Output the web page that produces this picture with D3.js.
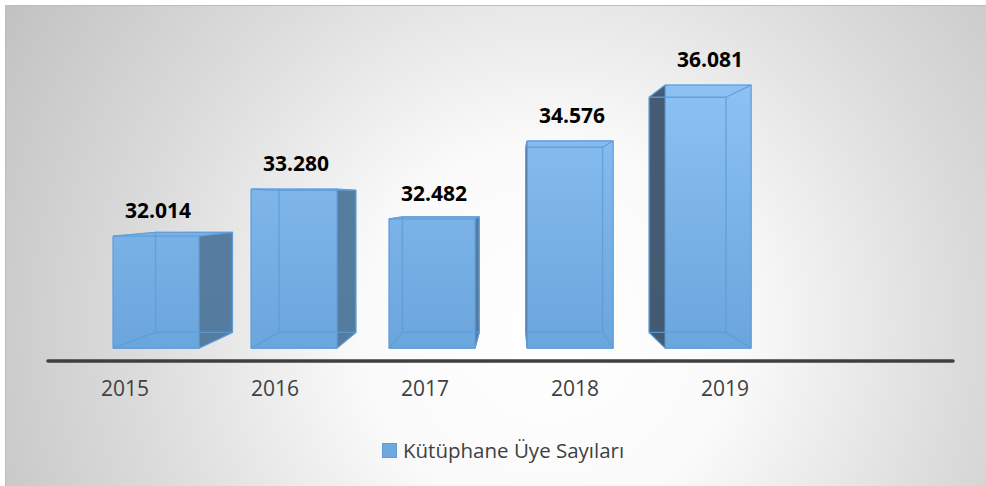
<!DOCTYPE html>
<html>
<head>
<meta charset="utf-8">
<script src="https://cdn.jsdelivr.net/npm/d3@7"></script>
<style>
	body { margin: 0; background: #ffffff; }
	svg { display: block; }
</style>
</head>
<body>
<svg id="container"></svg>
<script>
// data
const years = ['2015', '2016', '2017', '2018', '2019'];
const slots = years.concat(['']); // the axis keeps an empty sixth slot
const members = [32014, 33280, 32482, 34576, 36081];
const seriesName = 'Kütüphane Üye Sayıları';

const W = 986, H = 486;

// vanishing point and depths of the 3d bars
const vp = [514, 200];
const kFront = 0.92, kBack = 0.8225;

function proj(px, py, k) {
	return [vp[0] + k * (px - vp[0]), vp[1] + k * (py - vp[1])];
}

const trFormat = d3.formatLocale({ decimal: ',', thousands: '.', grouping: [3], currency: ['', ''] }).format(',d');

const svg = d3.select('#container')
	.attr('width', W)
	.attr('height', H);

const defs = svg.append('defs');

// radial background
const bg = defs.append('radialGradient')
	.attr('id', 'bg')
	.attr('gradientUnits', 'userSpaceOnUse')
	.attr('cx', 550).attr('cy', 330).attr('r', 630);
bg.append('stop').attr('offset', 0).attr('stop-color', '#ffffff');
bg.append('stop').attr('offset', 0.3).attr('stop-color', '#fafafa');
bg.append('stop').attr('offset', 0.65).attr('stop-color', '#dcdcdc');
bg.append('stop').attr('offset', 1).attr('stop-color', '#c2c2c2');

// bar fill
const barGrad = defs.append('linearGradient')
	.attr('id', 'barFill')
	.attr('gradientUnits', 'userSpaceOnUse')
	.attr('x1', 0).attr('y1', 80).attr('x2', 0).attr('y2', 350);
barGrad.append('stop').attr('offset', 0).attr('stop-color', '#8dc2f3');
barGrad.append('stop').attr('offset', 1).attr('stop-color', '#6aa5dc');

svg.append('rect')
	.attr('x', 5).attr('y', 5)
	.attr('width', W - 5).attr('height', H - 5)
	.attr('fill', 'url(#bg)');

svg.append('path')
	.attr('d', 'M5.5,' + H + 'V5.5H' + W)
	.attr('fill', 'none')
	.attr('stroke', '#bcbcbc')
	.attr('stroke-width', 1);

// scales (front plane of the axis)
const x = d3.scaleBand()
	.domain(slots)
	.range([50, 950])
	.paddingInner(0.377)
	.paddingOuter(0.1885);

const y = d3.scaleLinear()
	.domain([29000, 37000])
	.range([361, 38]);

// bars
const line = d3.line();
const edge = '#5d9cd8';

years.forEach((yr, i) => {
	const x0 = x(yr), x1 = x(yr) + x.bandwidth();
	const yTop = y(members[i]), yBot = y.range()[0];

	const f = [proj(x0, yTop, kFront), proj(x1, yTop, kFront), proj(x1, yBot, kFront), proj(x0, yBot, kFront)];
	const b = [proj(x0, yTop, kBack), proj(x1, yTop, kBack), proj(x1, yBot, kBack), proj(x0, yBot, kBack)];

	const g = svg.append('g').attr('class', 'bar');

	const faces = [
		b,
		[f[3], f[2], b[2], b[3]], // bottom
		[f[0], f[1], b[1], b[0]], // top
		f
	];
	faces.forEach(p => {
		g.append('path')
			.attr('d', line(p) + 'Z')
			.attr('fill', 'url(#barFill)')
			.attr('stroke', 'url(#barFill)')
			.attr('stroke-width', 1);
	});

	// side face, dark, on the side away from the vanishing point
	const rightSide = (x1 * kFront + vp[0] * (1 - kFront)) < vp[0];
	const side = rightSide ? [f[1], b[1], b[2], f[2]] : [f[0], b[0], b[3], f[3]];
	g.append('path')
		.attr('d', line(side) + 'Z')
		.attr('fill', rightSide ? '#557a9d' : '#42586e')
		.attr('fill-opacity', 0.97);

	// edges
	const edges = [
		b.concat([b[0]]),
		f.concat([f[0]]),
		[f[0], b[0]], [f[1], b[1]], [f[2], b[2]], [f[3], b[3]]
	];
	edges.forEach(p => {
		g.append('path')
			.attr('d', line(p))
			.attr('fill', 'none')
			.attr('stroke', edge)
			.attr('stroke-opacity', 0.85)
			.attr('stroke-width', 1.3)
			.attr('stroke-linejoin', 'round');
	});

	// value label
	g.append('text')
		.attr('x', (f[0][0] + f[1][0]) / 2 + 2)
		.attr('y', f[0][1] - 18)
		.attr('text-anchor', 'middle')
		.attr('font-family', 'Open Sans, sans-serif')
		.attr('font-weight', 'bold')
		.attr('font-size', 21)
		.attr('fill', '#000000')
		.text(trFormat(members[i]));
});

// category axis
const gX = svg.append('g')
	.attr('transform', 'translate(0,361)')
	.call(d3.axisBottom(x).tickSize(0).tickPadding(20).tickSizeOuter(0));

gX.select('.domain')
	.attr('d', 'M48,0H953')
	.attr('stroke', '#3f3f3f')
	.attr('stroke-width', 3.5)
	.attr('stroke-linecap', 'round');

gX.selectAll('.tick text')
	.attr('font-family', 'Open Sans, sans-serif')
	.attr('font-size', 21)
	.attr('fill', '#404040');

// legend
const legend = svg.append('g').attr('transform', 'translate(382,443)');
legend.append('rect')
	.attr('x', 0.5).attr('y', 0.5)
	.attr('width', 14).attr('height', 14)
	.attr('fill', '#6fa8de')
	.attr('stroke', edge);
legend.append('text')
	.attr('x', 21)
	.attr('y', 15)
	.attr('font-family', 'Open Sans, sans-serif')
	.attr('font-size', 20.5)
	.attr('fill', '#404040')
	.text(seriesName);
</script>
</body>
</html>
